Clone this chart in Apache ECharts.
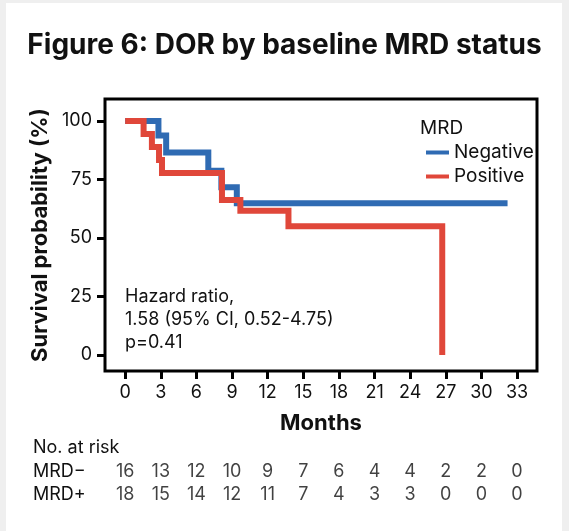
<!DOCTYPE html>
<html>
<head>
<meta charset="utf-8">
<script src="https://cdn.jsdelivr.net/npm/echarts@6/dist/echarts.min.js"></script>
<style>
html,body{margin:0;padding:0;background:#efefef;width:569px;height:531px;overflow:hidden;}
#wrap{position:absolute;left:6px;top:3px;width:556px;height:528px;background:#fff;}
#chart{position:absolute;left:-6px;top:-3px;width:569px;height:531px;}
</style>
</head>
<body>
<div id="wrap"><div id="chart"></div></div>
<script>
// Kaplan-Meier step points (months, survival %)
var negTimes = [0, 2.8, 3.45, 7.0, 8.1, 9.4, 32.2];
var negSurv  = [100, 93.8, 86.5, 78.8, 71.7, 64.9, 64.9];
var posTimes = [0, 1.55, 2.25, 2.85, 3.1, 8.15, 9.7, 13.75, 26.7];
var posSurv  = [100, 94.4, 88.9, 83.3, 77.8, 66.2, 61.7, 55.0, 0];

var xTicks = [0, 3, 6, 9, 12, 15, 18, 21, 24, 27, 30, 33];
var yTicks = [0, 25, 50, 75, 100];

var riskRows = ['MRD\u2212', 'MRD+'];
var riskNeg = [16, 13, 12, 10, 9, 7, 6, 4, 4, 2, 2, 0];
var riskPos = [18, 15, 14, 12, 11, 7, 4, 3, 3, 0, 0, 0];

var seriesNames = ['Negative', 'Positive'];
var titleText = 'Figure 6: DOR by baseline MRD status';
var hrLines = ['Hazard ratio,', '1.58 (95% CI, 0.52-4.75)', 'p=0.41'];

var FONT = 'Inter, "Liberation Sans", Arial, sans-serif';
var BLUE = '#2f6bb3';
var RED = '#e0473a';
var TXT = '#111';

function zip(a, b) { return a.map(function (v, i) { return [v, b[i]]; }); }

var riskData = [];
xTicks.forEach(function (t, i) {
  riskData.push([t, 0, riskNeg[i]]);
  riskData.push([t, 1, riskPos[i]]);
});

var X_MIN = -1.7, X_MAX = 34.68, Y_MIN = -6.8, Y_MAX = 109.4;

var chart = echarts.init(document.getElementById('chart'), null, {renderer: 'canvas'});
chart.setOption({
  animation: false,
  backgroundColor: 'transparent',
  textStyle: {fontFamily: FONT},
  title: {
    text: titleText, left: 'center', top: 27,
    textStyle: {fontFamily: FONT, fontWeight: 'bold', fontSize: 28, color: TXT}
  },
  legend: {
    data: seriesNames, orient: 'vertical', left: 421, top: 138,
    icon: 'rect', itemWidth: 23, itemHeight: 4, itemGap: 5, itemStyle: {borderWidth: 0},
    textStyle: {fontFamily: FONT, fontSize: 19, color: TXT}
  },
  graphic: [
    {type: 'text', left: 420, top: 119, style: {text: 'MRD', font: '19px ' + FONT, fill: TXT}},
    {type: 'text', left: 125, top: 285, style: {text: hrLines.join('\n'), font: '18px ' + FONT, fill: TXT, lineHeight: 23}},
    {type: 'text', left: 33, top: 439, style: {text: 'No. at risk', font: '18px ' + FONT, fill: TXT}}
  ],
  grid: [
    {left: 105, top: 99, right: 32, bottom: 160, show: true, borderWidth: 3, borderColor: '#000', backgroundColor: 'transparent'},
    {left: 105, top: 460, right: 32, height: 46, show: false}
  ],
  xAxis: [
    {
      type: 'value', gridIndex: 0, min: X_MIN, max: X_MAX,
      axisLine: {show: false, onZero: false}, splitLine: {show: false},
      axisTick: {show: true, inside: false, length: 8, lineStyle: {width: 3, color: '#000'}, customValues: xTicks},
      axisLabel: {fontSize: 18, color: TXT, margin: 13, customValues: xTicks, fontFamily: FONT},
      name: 'Months', nameLocation: 'middle', nameGap: 41,
      nameTextStyle: {fontSize: 22, fontWeight: 'bold', color: TXT, fontFamily: FONT}
    },
    {
      type: 'value', gridIndex: 1, min: X_MIN, max: X_MAX,
      show: false
    }
  ],
  yAxis: [
    {
      type: 'value', gridIndex: 0, min: Y_MIN, max: Y_MAX,
      axisLine: {show: false, onZero: false}, splitLine: {show: false},
      axisTick: {show: true, inside: false, length: 8, lineStyle: {width: 3, color: '#000'}, customValues: yTicks},
      axisLabel: {fontSize: 18, color: TXT, margin: 13, customValues: yTicks, fontFamily: FONT},
      name: 'Survival probability (%)', nameLocation: 'middle', nameGap: 52,
      nameTextStyle: {fontSize: 22, fontWeight: 'bold', color: TXT, fontFamily: FONT}
    },
    {
      type: 'category', gridIndex: 1, data: riskRows, inverse: true,
      axisLine: {show: false}, axisTick: {show: false}, splitLine: {show: false},
      axisLabel: {fontSize: 18, color: TXT, margin: 72, align: 'left', interval: 0, hideOverlap: false, fontFamily: FONT}
    }
  ],
  series: [
    {
      name: seriesNames[0], type: 'line', step: 'end', xAxisIndex: 0, yAxisIndex: 0,
      data: zip(negTimes, negSurv), showSymbol: false, symbol: 'none',
      lineStyle: {color: BLUE, width: 6, cap: 'butt', join: 'miter'}, itemStyle: {color: BLUE}, z: 2
    },
    {
      name: seriesNames[1], type: 'line', step: 'end', xAxisIndex: 0, yAxisIndex: 0,
      data: zip(posTimes, posSurv), showSymbol: false, symbol: 'none',
      lineStyle: {color: RED, width: 6, cap: 'butt', join: 'miter'}, itemStyle: {color: RED}, z: 3
    },
    {
      type: 'scatter', xAxisIndex: 1, yAxisIndex: 1, data: riskData,
      symbolSize: 0, silent: true,
      label: {show: true, position: 'inside', formatter: function (p) { return p.value[2]; },
        fontSize: 18, color: TXT, fontFamily: FONT}
    }
  ]
});
</script>
</body>
</html>
